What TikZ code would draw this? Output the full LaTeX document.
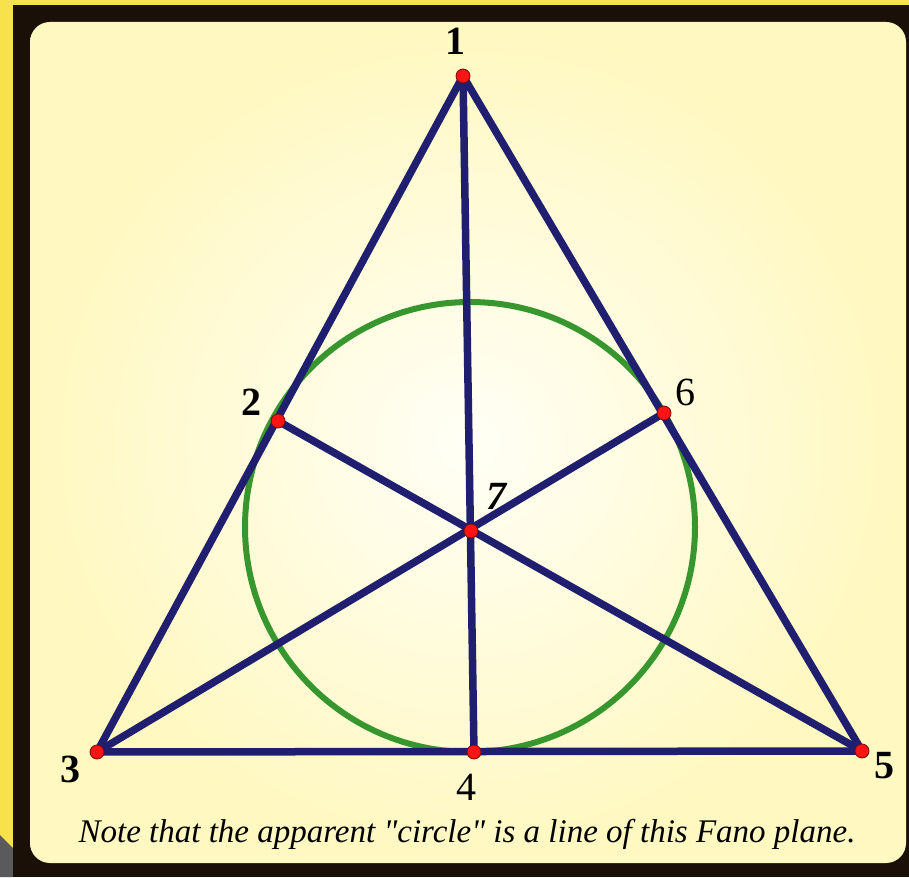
\documentclass[tikz,border=0pt]{standalone}
\usepackage{fontspec}
\setmainfont{Liberation Serif}[Ligatures=TeXOff]
\definecolor{outeryellow}{RGB}{247,226,76}
\definecolor{framedark}{RGB}{26,16,8}
\definecolor{cornergray}{RGB}{90,90,92}
\definecolor{creamedge}{RGB}{255,248,192}
\definecolor{creamcentre}{RGB}{255,255,246}
\definecolor{fanonavy}{RGB}{32,30,110}
\definecolor{fanogreen}{RGB}{56,150,46}
\definecolor{dotred}{RGB}{250,20,20}
\definecolor{dotrim}{RGB}{120,10,10}

\begin{document}
\begin{tikzpicture}[
  x=1pt, y=-1pt,
  fanoline/.style={draw=fanonavy, line width=7.5pt, line cap=round},
  fanocircle/.style={draw=fanogreen, line width=6pt},
  dot/.style={circle, fill=dotred, draw=dotrim, line width=0.8pt,
              inner sep=0pt, minimum size=14pt},
  num/.style={inner sep=0pt, font=\fontsize{40}{40}\selectfont\bfseries},
  thinnum/.style={inner sep=0pt, font=\fontsize{40}{40}\selectfont},
  caption/.style={inner sep=0pt, font=\fontsize{33}{33}\selectfont\itshape}
]
\useasboundingbox (0,0) rectangle (909,877);

% frame and backdrop
\fill[outeryellow] (0,0) rectangle (909,877);
\fill[cornergray] (0,835) -- (13,848) -- (13,877) -- (0,877) -- cycle;
\fill[framedark] (13,5) rectangle (909,877);
\shade[inner color=creamcentre, outer color=creamedge, rounded corners=20pt]
  (30,22) rectangle (906,863);

% points of the plane
\coordinate (c1) at (463,76);
\coordinate (c2) at (278,421);
\coordinate (c3) at (97,752);
\coordinate (c4) at (474,752);
\coordinate (c5) at (862,751);
\coordinate (c6) at (664,413);
\coordinate (c7) at (471,531);
\coordinate (mid) at (470,527);

% the "circle" line
\draw[fanocircle] (mid) circle[radius=225pt];

% straight lines
\draw[fanoline] (c1) -- (c3);
\draw[fanoline] (c1) -- (c5);
\draw[fanoline] (c3) -- (c5);
\draw[fanoline] (c1) -- (c4);
\draw[fanoline] (c2) -- (c5);
\draw[fanoline] (c3) -- (c6);

\foreach \i in {1,...,7}
  \node[dot] (p\i) at (c\i) {};

% labels
\node[num] (n1) at (455,41) {1};
\node[num] (n2) at (251,402) {2};
\node[num] (n3) at (70,769) {3};
\node[thinnum] (n4) at (466,787) {4};
\node[num] (n5) at (884,766) {5};
\node[thinnum] (n6) at (685,392) {6};
\node[num, font=\fontsize{40}{40}\selectfont\bfseries\itshape] (n7) at (496,496) {7};

\node[caption, anchor=base] (note) at (467,842)
  {Note that the apparent "circle" is a line of this Fano plane.};
\end{tikzpicture}
\end{document}
